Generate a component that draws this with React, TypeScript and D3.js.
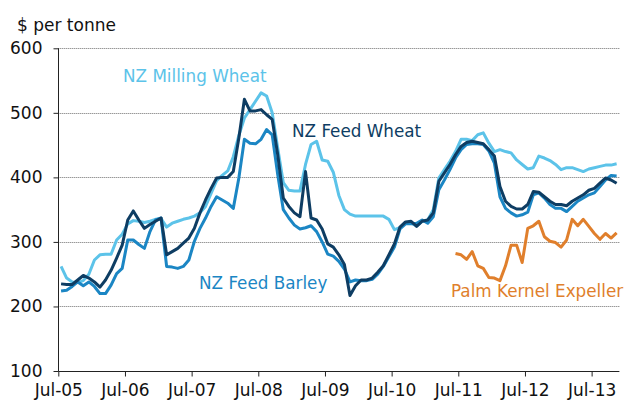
import React, { useEffect, useRef } from 'react';
import * as d3 from 'd3';

const tickLabels = ['Jul-05', 'Jul-06', 'Jul-07', 'Jul-08', 'Jul-09', 'Jul-10', 'Jul-11', 'Jul-12', 'Jul-13'];
const yTicks = [100, 200, 300, 400, 500, 600];

const millingWheat = [
  262, 244, 238, 237, 240, 250, 272, 280, 281, 281, 303, 312,
  328, 333, 332, 330, 332, 335, 336, 323, 329, 332, 335, 337,
  340, 345, 355, 375, 395, 403, 410, 432, 465, 492, 505, 518,
  531, 526, 500, 445, 392, 380, 379, 379, 420, 451, 456, 427,
  425, 408, 372, 350, 343, 340, 340, 340, 340, 340, 340, 335,
  319, 322, 330, 329, 325, 332, 334, 350, 399, 412, 425, 440,
  459, 459, 457, 466, 469, 453, 440, 443, 440, 438, 427, 420,
  413, 415, 433, 430, 426, 420, 412, 415, 415, 412, 409, 413,
  415, 417, 419, 419, 421,
];

const feedWheat = [
  235, 234, 234, 241, 248, 244, 238, 230, 241, 256, 275, 295,
  334, 348, 334, 321, 327, 332, 337, 280, 285, 290, 298, 306,
  321, 345, 365, 383, 399, 400, 400, 409, 461, 521, 503, 503,
  505, 497, 490, 435, 368, 355, 345, 339, 409, 337, 334, 320,
  297, 292, 280, 265, 217, 232, 241, 241, 244, 253, 263, 280,
  297, 323, 331, 332, 324, 332, 334, 345, 394, 407, 420, 435,
  448, 454, 456, 454, 452, 443, 433, 386, 363, 355, 351, 351,
  358, 378, 377, 370, 363, 358, 358, 356, 363, 368, 373, 380,
  383, 391, 399, 396, 391,
];

const feedBarley = [
  224, 225, 231, 238, 232, 238, 231, 220, 220, 233, 251, 259,
  303, 303, 296, 290, 316, 334, 337, 262, 261, 259, 262, 272,
  301, 321, 337, 355, 370, 365, 360, 352, 399, 459, 453, 452,
  459, 474, 466, 404, 350, 337, 326, 320, 322, 325, 316, 300,
  281, 278, 270, 258, 238, 241, 240, 240, 242, 250, 262, 277,
  292, 320, 328, 328, 329, 334, 329, 339, 381, 396, 412, 430,
  443, 451, 452, 452, 451, 441, 422, 370, 352, 345, 340, 342,
  346, 373, 376, 368, 358, 352, 352, 347, 355, 363, 368, 373,
  376, 386, 396, 403, 402,
];

const palmKernelStart = 71;
const palmKernelValues = [
  282, 280, 273, 285, 263, 259, 245, 244, 240, 263, 295, 295,
  268, 321, 325, 332, 308, 301, 299, 292, 303, 335, 325, 335,
  324, 313, 304, 313, 306, 314,
];

const seriesNames = ['NZ Milling Wheat', 'NZ Feed Wheat', 'NZ Feed Barley', 'Palm Kernel Expeller'];
const seriesColors = ['#5cc3e9', '#0e3d63', '#1b86c4', '#e07f2c'];

export default function App() {
  const ref = useRef<SVGSVGElement>(null);

  useEffect(() => {
    const svg = d3.select(ref.current);
    svg.selectAll('*').remove();

    const nMonths = millingWheat.length;
    const x = d3.scaleLinear().domain([0, 101]).range([58.3, 619.4]);
    const y = d3.scaleLinear().domain([100, 600]).range([371, 48.3]);
    const font = "'DejaVu Sans', Verdana, sans-serif";

    svg.append('rect').attr('width', 630).attr('height', 401).attr('fill', '#fff');

    // gridlines
    svg.append('g')
      .selectAll('line')
      .data(yTicks.filter((t) => t > 100))
      .join('line')
      .attr('x1', x(0))
      .attr('x2', x(101))
      .attr('y1', (d) => Math.round(y(d)) + 0.5)
      .attr('y2', (d) => Math.round(y(d)) + 0.5)
      .attr('stroke', '#6e6e6e')
      .attr('stroke-width', 1)
      .attr('stroke-dasharray', '1,1');

    // y axis
    const yAxis = d3.axisLeft(y).tickValues(yTicks).tickSize(5).tickPadding(11).tickFormat(d3.format('d'));
    const gy = svg.append('g').attr('transform', `translate(${Math.round(x(0)) + 0.5},0)`).call(yAxis);
    gy.select('.domain').attr('stroke', '#222').attr('d', `M-0,${y(600)}V${y(100)}`);
    gy.selectAll('.tick line').attr('stroke', '#222');
    gy.selectAll('.tick text').attr('font-family', font).attr('font-size', 17).attr('fill', '#111');

    // x axis
    const tickVals = tickLabels.map((_, i) => i * 12);
    const xAxis = d3.axisBottom(x).tickValues(tickVals).tickSize(5).tickPadding(7)
      .tickFormat((d, i) => tickLabels[i]);
    const gx = svg.append('g').attr('transform', `translate(0,${Math.round(y(100)) + 0.5})`).call(xAxis);
    gx.select('.domain').attr('stroke', '#222').attr('d', `M${x(0)},0H${x(101)}`);
    gx.selectAll('.tick line').attr('stroke', '#222');
    gx.selectAll('.tick text').attr('font-family', font).attr('font-size', 17).attr('fill', '#111');

    // y axis title
    svg.append('text')
      .attr('x', 17).attr('y', 31)
      .attr('font-family', font).attr('font-size', 17).attr('fill', '#111')
      .text('$ per tonne');

    const palmKernel: (number | null)[] = d3.range(nMonths).map((i) =>
      i >= palmKernelStart ? palmKernelValues[i - palmKernelStart] : null
    );
    const allSeries = [millingWheat, feedWheat, feedBarley, palmKernel];
    const drawOrder = [0, 3, 2, 1];

    const line = d3.line<number | null>()
      .defined((d) => d != null)
      .x((_, i) => x(i + 0.5))
      .y((d) => y(d as number));

    drawOrder.forEach((si) => {
      svg.append('path')
        .datum(allSeries[si])
        .attr('d', line as any)
        .attr('fill', 'none')
        .attr('stroke', seriesColors[si])
        .attr('stroke-width', 3)
        .attr('stroke-linejoin', 'round');
    });

    // labels
    const labelPos = [
      { x: 123, y: 82 },
      { x: 292, y: 137 },
      { x: 199, y: 289 },
      { x: 451, y: 297 },
    ];
    seriesNames.forEach((name, i) => {
      svg.append('text')
        .attr('x', labelPos[i].x).attr('y', labelPos[i].y)
        .attr('font-family', font).attr('font-size', 16.8)
        .attr('fill', seriesColors[i])
        .text(name);
    });
  }, []);

  return (
    <svg ref={ref} width={630} height={401} style={{ position: 'absolute', left: 0, top: 0, display: 'block' }} />
  );
}
